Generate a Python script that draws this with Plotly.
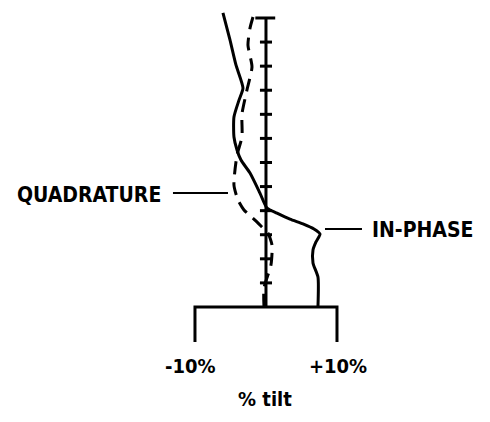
import plotly.graph_objects as go

# ---- data (x in % tilt, y in depth units along the vertical scale) ----
inphase_depth = [-0.21, 0.91, 1.95, 2.91, 3.41, 4.11, 4.94, 5.48, 5.90, 6.44, 7.27, 7.89, 8.10,
                 8.35, 8.55, 8.76, 8.97, 9.30, 9.63, 10.17, 10.76, 12.0]
inphase_tilt = [-6.06, -5.07, -4.23, -3.24, -3.80, -4.51, -4.51, -4.08, -3.52, -2.25, -0.85, 0.14, 1.55,
                3.38, 5.21, 6.76, 7.61, 7.04, 6.62, 6.62, 7.32, 7.32]

quad_depth = [-0.04, 0.42, 1.12, 2.03, 2.99, 3.99, 4.94, 5.69, 6.94, 7.56, 7.97, 8.39, 8.68,
              8.93, 9.43, 10.26, 11.21, 12.0]
quad_tilt = [-1.83, -2.25, -2.54, -1.97, -2.68, -3.38, -3.38, -4.08, -4.51, -3.94, -3.10, -1.55, -0.56,
             0.28, 0.85, 0.70, -0.28, -0.28]

scale_ticks = [1, 2, 3, 4, 5, 6, 7, 8, 9, 10, 11]
scale_top = 0
scale_bottom = 12
tilt_tick_values = [-10, 10]
tilt_tick_labels = ["-10%", "+10%"]
axis_title = "% tilt"
label_quad = "QUADRATURE"
label_inphase = "IN-PHASE"

FONT = "DejaVu Sans Condensed, Liberation Sans Narrow, DejaVu Sans, Arial"
INK = "black"
LW = 3

fig = go.Figure()

# vertical depth scale with crossbar ticks
fig.add_trace(go.Scatter(x=[0, 0], y=[scale_top, scale_bottom], mode="lines",
                         line=dict(color=INK, width=LW), hoverinfo="skip", showlegend=False))
tx, ty = [], []
for d in scale_ticks:
    tx += [-0.85, 0.85, None]
    ty += [d, d, None]
tx += [-1.5, 1.3, None]
ty += [scale_top, scale_top, None]
fig.add_trace(go.Scatter(x=tx, y=ty, mode="lines", line=dict(color=INK, width=LW),
                         hoverinfo="skip", showlegend=False))

# bottom tilt scale bracket
bx = [tilt_tick_values[0], tilt_tick_values[0], tilt_tick_values[1], tilt_tick_values[1]]
by = [scale_bottom + 1.45, scale_bottom, scale_bottom, scale_bottom + 1.45]
fig.add_trace(go.Scatter(x=bx, y=by, mode="lines", line=dict(color=INK, width=LW),
                         hoverinfo="skip", showlegend=False))

# curves
fig.add_trace(go.Scatter(x=inphase_tilt, y=inphase_depth, mode="lines",
                         line=dict(color=INK, width=LW, shape="spline", smoothing=0.6),
                         name=label_inphase, showlegend=False))
fig.add_trace(go.Scatter(x=quad_tilt, y=quad_depth, mode="lines",
                         line=dict(color=INK, width=LW, shape="spline", smoothing=0.6, dash="13px,8px"),
                         name=label_quad, showlegend=False))

# leader lines
fig.add_trace(go.Scatter(x=[-13.1, -5.35, None, 8.31, 13.52], y=[7.27, 7.27, None, 8.76, 8.76],
                         mode="lines", line=dict(color=INK, width=2),
                         hoverinfo="skip", showlegend=False))

annotations = [
    dict(x=-14.5, y=7.35, text=label_quad, xanchor="right", yanchor="middle", size=21),
    dict(x=14.65, y=8.8, text=label_inphase, xanchor="left", yanchor="middle", size=21),
    dict(x=tilt_tick_values[0] - 0.7, y=14.45, text=tilt_tick_labels[0], xanchor="center", yanchor="middle", size=20),
    dict(x=tilt_tick_values[1] + 0.14, y=14.45, text=tilt_tick_labels[1], xanchor="center", yanchor="middle", size=20),
    dict(x=-0.14, y=15.8, text=axis_title, xanchor="center", yanchor="middle", size=20),
]
for a in annotations:
    fig.add_annotation(x=a["x"], y=a["y"], xref="x", yref="y", text="<b>" + a["text"] + "</b>",
                       showarrow=False, xanchor=a["xanchor"], yanchor=a["yanchor"],
                       font=dict(family=FONT, size=a["size"], color=INK))

fig.update_layout(
    width=490, height=422,
    margin=dict(l=0, r=0, t=0, b=0),
    paper_bgcolor="white", plot_bgcolor="white",
    xaxis=dict(range=[-37.46, 31.55], visible=False, fixedrange=True),
    yaxis=dict(range=[16.776, -0.747], visible=False, fixedrange=True),
)

fig.write_html("out.html")
